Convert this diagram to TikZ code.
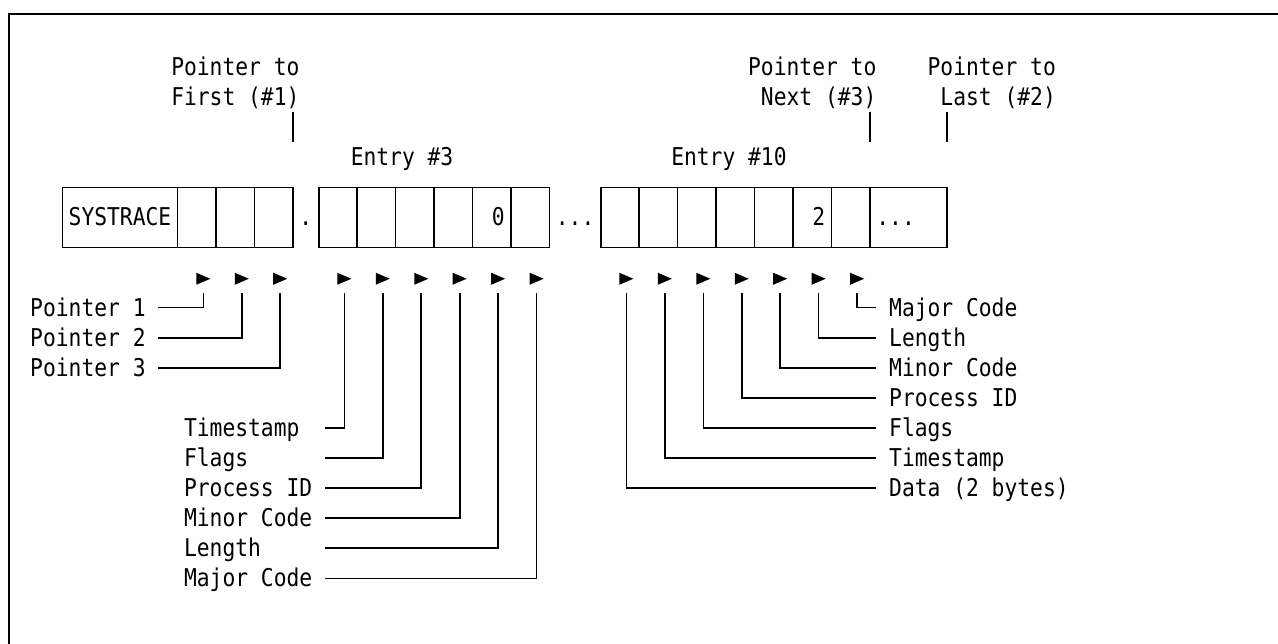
\documentclass[tikz,border=0pt]{standalone}
\usepackage{fontspec}
\newfontfamily\monofam[FakeStretch=0.869]{DejaVu Sans Mono}
\newcommand\bsh{0.2826}% baseline offset below a row centre, in row units
\tikzset{
  ln/.style={line width=1.6pt},
  txt/.style={anchor=base west, inner sep=0pt, outer sep=0pt,
    font=\monofam\fontsize{24.5pt}{28pt}\selectfont},
  cellbox/.style={draw, line width=1.6pt, inner sep=0pt, outer sep=0pt,
    minimum height=60.16pt},
  tri/.pic={\fill (-7pt,-7.2pt) -- (7pt,-1.2pt) -- (-7pt,4.8pt) -- cycle;}
}
\begin{document}
\begin{tikzpicture}
\useasboundingbox (0pt,0pt) rectangle (1278pt,-644pt);
% outer frame (top and left edges)
\draw[line width=1.8pt] (1278pt,-14pt) -- (9pt,-14pt) -- (9pt,-644pt);

% character grid: x = column, y = row (downwards)
\begin{scope}[x=12.82pt, y=-30.08pt, shift={(30.25pt,-67pt)}]

% header labels
\node[txt] (ptf1) at (11,0+\bsh) {Pointer to};
\node[txt] (ptf2) at (11,1+\bsh) {First (\#1)};
\node[txt] (ptn1) at (56,0+\bsh) {Pointer to};
\node[txt] (ptn2) at (57,1+\bsh) {Next (\#3)};
\node[txt] (ptl1) at (70,0+\bsh) {Pointer to};
\node[txt] (ptl2) at (71,1+\bsh) {Last (\#2)};
\coordinate (fa) at (20.5,1.5); \coordinate (fb) at (20.5,2.5);
\coordinate (na) at (65.5,1.5); \coordinate (nb) at (65.5,2.5);
\coordinate (la) at (71.5,1.5); \coordinate (lb) at (71.5,2.5);
\draw[ln] (fa) -- (fb);
\draw[ln] (na) -- (nb);
\draw[ln] (la) -- (lb);

\node[txt] (en3)  at (25,3+\bsh) {Entry \#3};
\node[txt] (en10) at (50,3+\bsh) {Entry \#10};

% trace table cells
\foreach \nm/\a/\b in {sys/2/11, pa/11/14, pb/14/17, pc/17/20,
    ea/22/25, eb/25/28, ec/28/31, ed/31/34, ee/34/37, ef/37/40,
    ga/44/47, gb/47/50, gc/50/53, gd/53/56, ge/56/59, gf/59/62, gg/62/65, gh/65/71}
  \node[cellbox, minimum width={(\b-\a)*12.82pt}] (\nm) at ({(\a+\b)/2+0.5},5) {};

\node[txt] (tsys) at (3,5+\bsh) {SYSTRACE};
\node[txt] (dot1) at (21,5+\bsh) {.};
\node[txt] (zero) at (36,5+\bsh) {0};
\node[txt] (dot2) at (41,5+\bsh) {...};
\node[txt] (two)  at (61,5+\bsh) {2};
\node[txt] (dot3) at (66,5+\bsh) {...};

% field markers and the top of their stems
\foreach \c in {13,16,19,24,27,30,33,36,39,46,49,52,55,58,61,64} {
  \coordinate (t\c) at (\c+0.5,7);
  \coordinate (s\c) at (\c+0.5,7.5);
  \pic at (t\c) {tri};
}

% header pointers
\foreach \r/\t/\c in {8/{Pointer 1}/13, 9/{Pointer 2}/16, 10/{Pointer 3}/19} {
  \node[txt] (hp\r) at (0,\r+\bsh) {\t};
  \coordinate (he\r) at (10,\r);
  \draw[ln] (he\r) -| (s\c);
}

% fields of entry #3
\foreach \r/\t/\c in {12/Timestamp/24, 13/Flags/27, 14/{Process ID}/30,
    15/{Minor Code}/33, 16/Length/36, 17/{Major Code}/39} {
  \node[txt] (el\r) at (12,\r+\bsh) {\t};
  \coordinate (ee\r) at (23,\r);
  \draw[ln] (ee\r) -| (s\c);
}

% fields of entry #10
\foreach \r/\t/\c in {8/{Major Code}/64, 9/Length/61, 10/{Minor Code}/58,
    11/{Process ID}/55, 12/Flags/52, 13/Timestamp/49, 14/{Data (2 bytes)}/46} {
  \node[txt] (rl\r) at (67,\r+\bsh) {\t};
  \coordinate (re\r) at (66,\r);
  \draw[ln] (s\c) |- (re\r);
}
\end{scope}
\end{tikzpicture}
\end{document}
